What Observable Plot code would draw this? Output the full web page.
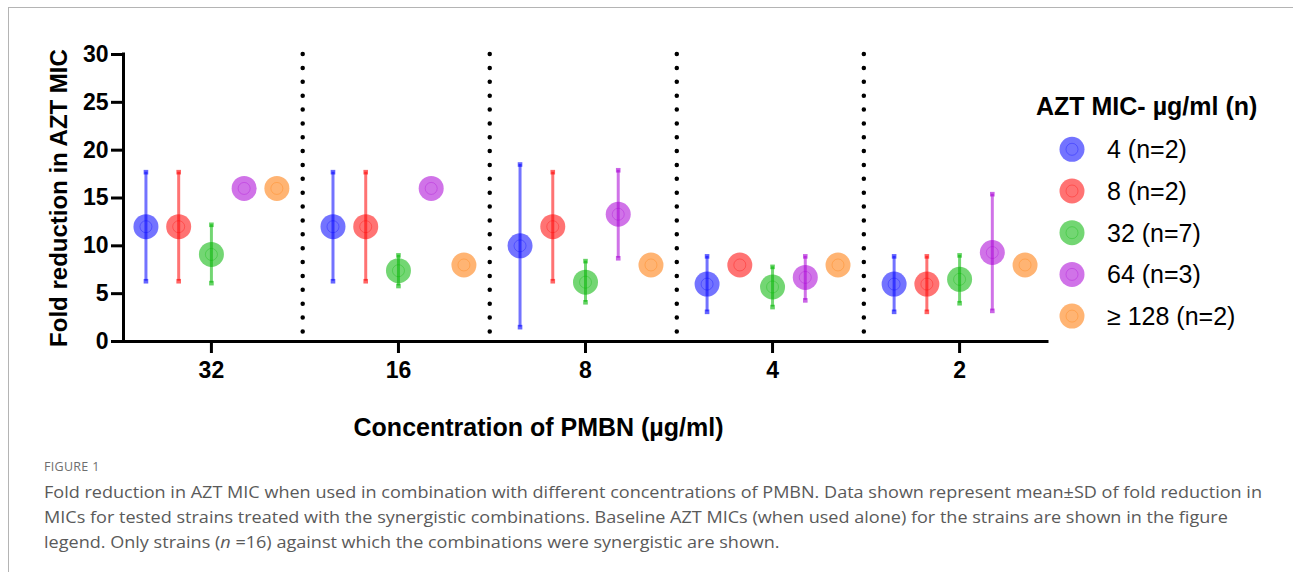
<!DOCTYPE html>
<html>
<head>
<meta charset="utf-8">
<script src="https://cdn.jsdelivr.net/npm/d3@7"></script>
<script src="https://cdn.jsdelivr.net/npm/@observablehq/plot@0.6"></script>
<style>
  html, body { margin: 0; padding: 0; background: #fff; }
  #wrap { position: relative; width: 1293px; height: 572px; overflow: hidden; font-family: 'Liberation Sans', Arial, sans-serif; }
  #frame { position: absolute; left: 8px; top: 7px; width: 1300px; height: 600px; border-top: 1px solid #b4b4b4; border-left: 1px solid #b4b4b4; }
  #chart { position: absolute; left: 0; top: 0; }
  #legend { position: absolute; left: 0; top: 0; }
  .cap { position: absolute; left: 44px; white-space: nowrap; color: #5a5a5a; transform-origin: 0 50%; font-family: 'Open Sans', 'Noto Sans', sans-serif; }
  #figlabel { position: absolute; left: 44px; top: 458px; font-size: 12.5px; color: #6e6e6e; letter-spacing: 0.3px; font-family: 'Open Sans', sans-serif; }
</style>
</head>
<body>
<div id="wrap">
  <div id="frame"></div>
  <div id="chart"></div>
  <svg id="legend" width="1293" height="440"></svg>
  <div id="figlabel">FIGURE 1</div>
  <div class="cap" id="c1"></div>
  <div class="cap" id="c2"></div>
  <div class="cap" id="c3"></div>
</div>
<script>
// ---- Data ----
const groups = ["32", "16", "8", "4", "2"];               // PMBN concentration (µg/ml)
const seriesLabels = ["4 (n=2)", "8 (n=2)", "32 (n=7)", "64 (n=3)", "\u2265 128 (n=2)"];
const seriesColors = ["rgb(0,0,255)", "rgb(255,0,0)", "rgb(0,181,0)", "rgb(169,0,213)", "rgb(255,118,0)"];

const mean4   = [12, 12, 10, 6, 6];
const lo4     = [6.3, 6.3, 1.5, 3.1, 3.1];
const hi4     = [17.7, 17.7, 18.5, 8.9, 8.9];

const mean8   = [12, 12, 12, 8, 6];
const lo8     = [6.3, 6.3, 6.3, null, 3.1];
const hi8     = [17.7, 17.7, 17.7, null, 8.9];

const mean32  = [9.1, 7.4, 6.2, 5.7, 6.5];
const lo32    = [6.1, 5.8, 4.1, 3.6, 4.0];
const hi32    = [12.2, 9.0, 8.4, 7.8, 9.0];

const mean64  = [16, 16, 13.3, 6.7, 9.3];
const lo64    = [null, null, 8.7, 4.3, 3.2];
const hi64    = [null, null, 17.9, 8.9, 15.4];

const mean128 = [16, 8, 8, 8, 8];
const lo128   = [null, null, null, null, null];
const hi128   = [null, null, null, null, null];

const yTicks = [0, 5, 10, 15, 20, 25, 30];
const yTitle = "Fold reduction in AZT MIC";
const xTitle = "Concentration of PMBN (\u00b5g/ml)";
const legendTitle = "AZT MIC- \u00b5g/ml (n)";
const captionLines = [
  "Fold reduction in AZT MIC when used in combination with different concentrations of PMBN. Data shown represent mean\u00b1SD of fold reduction in",
  "MICs for tested strains treated with the synergistic combinations. Baseline AZT MICs (when used alone) for the strains are shown in the figure",
  "legend. Only strains (<i>n</i> =16) against which the combinations were synergistic are shown."
];

// ---- Build table ----
const means = [mean4, mean8, mean32, mean64, mean128];
const los = [lo4, lo8, lo32, lo64, lo128];
const his = [hi4, hi8, hi32, hi64, hi128];
const seriesOffset = [-0.35, -0.175, 0, 0.175, 0.35]; // dodge within a group (in group units)
const xDomain = [-0.47, 4.47];
const dividers = groups.slice(1).map((g, i) => i + 0.488);

const rows = [];
groups.forEach((g, gi) => {
  seriesLabels.forEach((s, si) => {
    rows.push({group: g, series: s, x: gi + seriesOffset[si], mean: means[si][gi], lo: los[si][gi], hi: his[si][gi]});
  });
});
const errRows = rows.filter(d => d.lo != null);
const capRows = errRows.flatMap(d => [{series: d.series, x: d.x, y: d.lo}, {series: d.series, x: d.x, y: d.hi}]);

const chart = Plot.plot({
  width: 1293,
  height: 460,
  marginLeft: 123,
  marginRight: 246,
  marginTop: 54,
  marginBottom: 119,
  style: {fontFamily: "'Liberation Sans', Arial, sans-serif", fontWeight: "bold", fontSize: "23px", color: "#000", background: "transparent", overflow: "visible"},
  x: {type: "linear", domain: xDomain},
  y: {domain: [0, 30]},
  color: {domain: seriesLabels, range: seriesColors},
  marks: [
    Plot.ruleX(dividers, {x: d => d, y1: 1, y2: 30, stroke: "#000", strokeWidth: 4.5, strokeDasharray: "0 13.87", strokeLinecap: "round"}),
    Plot.dot(rows, {x: "x", y: "mean", r: 12.5, fill: "series", fillOpacity: 0.55}),
    Plot.ruleX(errRows, {x: "x", y1: "lo", y2: "hi", stroke: "series", strokeOpacity: 0.55, strokeWidth: 3}),
    Plot.dot(capRows, {x: "x", y: "y", symbol: "square", r: 2.6, fill: "series", fillOpacity: 0.6}),
    Plot.dot(rows, {x: "x", y: "mean", r: 6, stroke: "series", strokeOpacity: 0.3, strokeWidth: 1, fill: "none"}),
    Plot.ruleY([0], {stroke: "#000", strokeWidth: 3, strokeLinecap: "square"}),
    Plot.ruleX([xDomain[0]], {y1: 0, y2: 30, stroke: "#000", strokeWidth: 3, strokeLinecap: "square"}),
    Plot.axisY({ticks: yTicks, tickSize: 12, tickPadding: 3, strokeWidth: 3, label: null, fontSize: 23}),
    Plot.axisX({ticks: groups.map((g, i) => i), tickFormat: i => groups[i], tickSize: 12, tickPadding: 8, strokeWidth: 3, label: null, fontSize: 23}),
    Plot.text([yTitle], {text: d => d, frameAnchor: "left", dx: -64, rotate: -90, textAnchor: "middle", lineAnchor: "middle", fontSize: 24}),
    Plot.text([xTitle], {text: d => d, frameAnchor: "bottom", dx: -47, dy: 86, textAnchor: "middle", lineAnchor: "middle", fontSize: 25})
  ]
});
document.getElementById("chart").appendChild(chart);

// ---- Legend ----
const lg = d3.select("#legend");
lg.append("text").attr("x", 1036).attr("y", 115)
  .attr("font-family", "'Liberation Sans', Arial, sans-serif").attr("font-weight", "bold").attr("font-size", 25)
  .text(legendTitle);
const items = lg.selectAll("g.item").data(seriesLabels).join("g")
  .attr("transform", (d, i) => `translate(1072,${149.3 + i * 41.7})`);
items.append("circle").attr("r", 12.5).attr("fill", (d, i) => seriesColors[i]).attr("fill-opacity", 0.55);
items.append("circle").attr("r", 6).attr("fill", "none").attr("stroke", (d, i) => seriesColors[i]).attr("stroke-opacity", 0.3);
items.append("text").attr("x", 35).attr("dy", "0.36em")
  .attr("font-family", "'Liberation Sans', Arial, sans-serif").attr("font-size", 25)
  .text(d => d);

// ---- Caption ----
const capTops = [480, 505, 530];
captionLines.forEach((t, i) => {
  const el = document.getElementById("c" + (i + 1));
  el.innerHTML = t;
  el.style.top = capTops[i] + "px";
  el.style.fontSize = "16.5px";
});
const w1 = document.getElementById("c1").getBoundingClientRect().width;
const k = 1218 / w1;
["c1", "c2", "c3"].forEach(id => { document.getElementById(id).style.transform = `scaleX(${k})`; });
</script>
</body>
</html>
